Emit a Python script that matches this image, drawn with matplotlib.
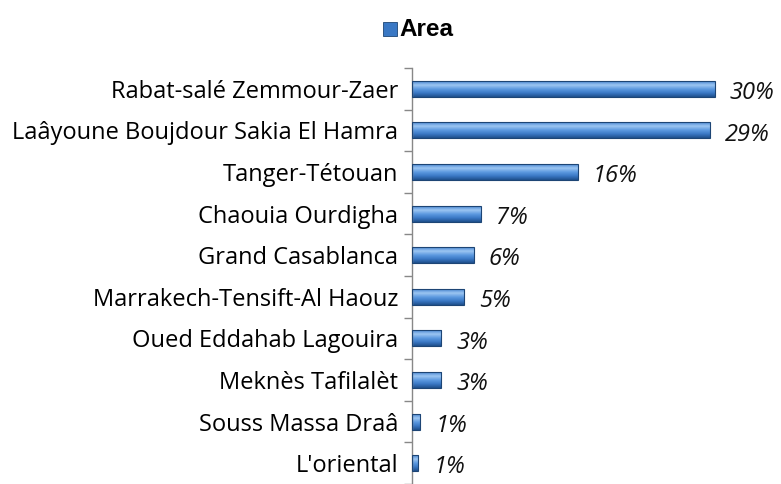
import numpy as np
import matplotlib.pyplot as plt
from matplotlib.colors import LinearSegmentedColormap
from matplotlib.patches import Rectangle

regions = ["Rabat-salé Zemmour-Zaer", "Laâyoune Boujdour Sakia El Hamra",
           "Tanger-Tétouan", "Chaouia Ourdigha", "Grand Casablanca",
           "Marrakech-Tensift-Al Haouz", "Oued Eddahab Lagouira",
           "Meknès Tafilalèt", "Souss Massa Draâ", "L'oriental"]
area = [30.0, 29.5, 16.4, 6.8, 6.1, 5.2, 2.9, 2.9, 0.8, 0.6]
labels = ["30%", "29%", "16%", "7%", "6%", "5%", "3%", "3%", "1%", "1%"]

plt.rcParams['font.family'] = ['Open Sans', 'DejaVu Sans']

fig = plt.figure(figsize=(7.81, 4.84), dpi=100)
ax = fig.add_axes([412/781, 0, 330/781, 1 - 68/484])

n = len(regions)
y = np.arange(n)[::-1]  # first region at top
h = 0.38

# gradient colours of the bevelled bar (bottom -> top)
cmap = LinearSegmentedColormap.from_list(
    'bev', ['#1f4f8c', '#3a78c4', '#5d9ae0', '#9cc6f2', '#4c88d2'])
grad = np.linspace(0, 1, 64).reshape(-1, 1)

for yi, v in zip(y, area):
    ax.imshow(grad, cmap=cmap, aspect='auto', origin='lower',
              extent=(0, v, yi - h/2, yi + h/2), zorder=2)
    ax.barh(yi, v, height=h, color='none', edgecolor='#1d4575',
            linewidth=0.8, zorder=3)

for yi, v, lab in zip(y, area, labels):
    ax.text(v + 1.5, yi - 0.1, lab, ha='left', va='center',
            fontsize=17, style='italic', color='#111111')

ax.set_xlim(0, 32.7)
ax.set_ylim(-0.5, n - 0.5)

ax.set_yticks(y)
ax.set_yticklabels(regions, fontsize=17)
ax.tick_params(axis='y', which='major', length=0, pad=10)
ax.set_yticks(np.arange(n + 1) - 0.5, minor=True)
ax.tick_params(axis='y', which='minor', length=6, color='#888888', width=1)
ax.set_xticks([])

for s in ['top', 'right', 'bottom']:
    ax.spines[s].set_visible(False)
ax.spines['left'].set_color('#888888')
ax.spines['left'].set_linewidth(1)

# legend-like title
fig.patches.append(Rectangle((383/781, 1 - 36/484), 14/781, 14/484,
                             transform=fig.transFigure, facecolor='#3a78c4',
                             edgecolor='#1d4575', linewidth=0.6))
fig.text(399/781, 1 - 29/484, 'Area', fontsize=17.5, fontweight='bold',
         ha='left', va='center', family='Liberation Sans')

plt.savefig('out.png', dpi=100)
